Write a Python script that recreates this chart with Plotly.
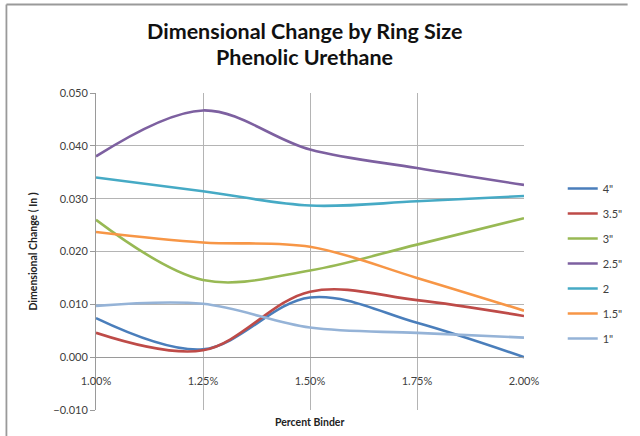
import plotly.graph_objects as go

# Percent binder levels (category positions on the x axis)
binder = [1.00, 1.25, 1.50, 1.75, 2.00]
binder_labels = ["1.00%", "1.25%", "1.50%", "1.75%", "2.00%"]

# Dimensional change (in) per ring size
ring_4 = [0.0074, 0.0015, 0.0113, 0.0065, 0.0000]
ring_3_5 = [0.0046, 0.0013, 0.0124, 0.0108, 0.0078]
ring_3 = [0.0260, 0.0146, 0.0164, 0.0213, 0.0263]
ring_2_5 = [0.0380, 0.0467, 0.0393, 0.0358, 0.0326]
ring_2 = [0.0340, 0.0314, 0.0287, 0.0295, 0.0305]
ring_1_5 = [0.0237, 0.0217, 0.0209, 0.0150, 0.0088]
ring_1 = [0.0097, 0.0101, 0.0056, 0.0046, 0.0037]

series_names = ['4"', '3.5"', '3"', '2.5"', '2', '1.5"', '1"']
series_values = [ring_4, ring_3_5, ring_3, ring_2_5, ring_2, ring_1_5, ring_1]
series_colors = ["#4A7EBB", "#BE4B48", "#98B954", "#7D60A0", "#46AAC5", "#F79646", "#95B3D7"]

y_ticks = [-0.010, 0.000, 0.010, 0.020, 0.030, 0.040, 0.050]

title_lines = ["Dimensional Change by Ring Size", "Phenolic Urethane"]
x_title = "Percent Binder"
y_title = "Dimensional Change ( In )"

W, H = 640, 436
L, R, T, B = 96, 102, 93, 26
plot_w = W - L - R
plot_h = H - T - B

def px_to_paper(px, py):
    return (px - L) / plot_w, (H - B - py) / plot_h

fig = go.Figure()
for name, vals, col in zip(series_names, series_values, series_colors):
    fig.add_trace(go.Scatter(
        x=binder, y=vals, name=name, mode="lines",
        line=dict(color=col, width=2.6, shape="spline", smoothing=1.0),
        legendgroup=name,
    ))

# outer chart frame (top and left edges)
x0, y0 = px_to_paper(3.5, 4.5)
x1, _ = px_to_paper(W + 5, 4.5)
_, y1 = px_to_paper(3.5, H + 5)
frame = dict(type="line", xref="paper", yref="paper",
             line=dict(color="#9A9A9A", width=1.8), layer="above")
fig.add_shape(x0=x0, y0=y0, x1=x1, y1=y0, **frame)
fig.add_shape(x0=x0, y0=y0, x1=x0, y1=y1, **frame)

# chart title (two lines) and x-axis title as positioned text
for text, cy in zip(title_lines, [31, 57]):
    ax, ay = px_to_paper(311.5, cy)
    fig.add_annotation(text=f"<b>{text}</b>", x=ax, y=ay, xref="paper", yref="paper",
                       xanchor="center", yanchor="middle", showarrow=False,
                       font=dict(size=21.5, color="#111111", family="Lato, sans-serif"))
ax, ay = px_to_paper(316, 422)
fig.add_annotation(text=f"<b>{x_title}</b>", x=ax, y=ay, xref="paper", yref="paper",
                   xanchor="center", yanchor="middle", showarrow=False,
                   font=dict(size=10.5, color="#222222"))

ymin, ymax = -0.010, 0.050
fig.update_layout(
    width=W, height=H,
    margin=dict(l=L, r=R, t=T, b=B),
    paper_bgcolor="white", plot_bgcolor="white",
    font=dict(family="Lato, sans-serif", color="#404040"),
    xaxis=dict(
        range=[binder[0], binder[-1]],
        tickvals=binder, ticktext=binder_labels,
        showgrid=True, gridcolor="#B4B4B4", gridwidth=1,
        showline=True, linecolor="#9A9A9A", linewidth=1,
        anchor="free", position=(0 - ymin) / (ymax - ymin),
        ticks="", ticklabelstandoff=14,
        tickfont=dict(size=11, color="#404040"),
        zeroline=False,
    ),
    yaxis=dict(
        range=[ymin, ymax],
        tickvals=y_ticks, tickformat=".3f",
        showgrid=True, gridcolor="#B4B4B4", gridwidth=1,
        showline=True, linecolor="#9A9A9A", linewidth=1,
        ticks="outside", ticklen=5, tickcolor="#9A9A9A",
        tickfont=dict(size=11, color="#404040"),
        zeroline=False,
        title=dict(text=f"<b>{y_title}</b>", font=dict(size=10.5, color="#222222"), standoff=13),
    ),
    legend=dict(
        x=px_to_paper(578, 0)[0], xanchor="left",
        y=px_to_paper(0, 174)[1], yanchor="top",
        font=dict(size=11, color="#404040"),
        tracegroupgap=6, itemwidth=30,
        bgcolor="rgba(0,0,0,0)",
    ),
    showlegend=True,
)

fig.write_html("out.html")
